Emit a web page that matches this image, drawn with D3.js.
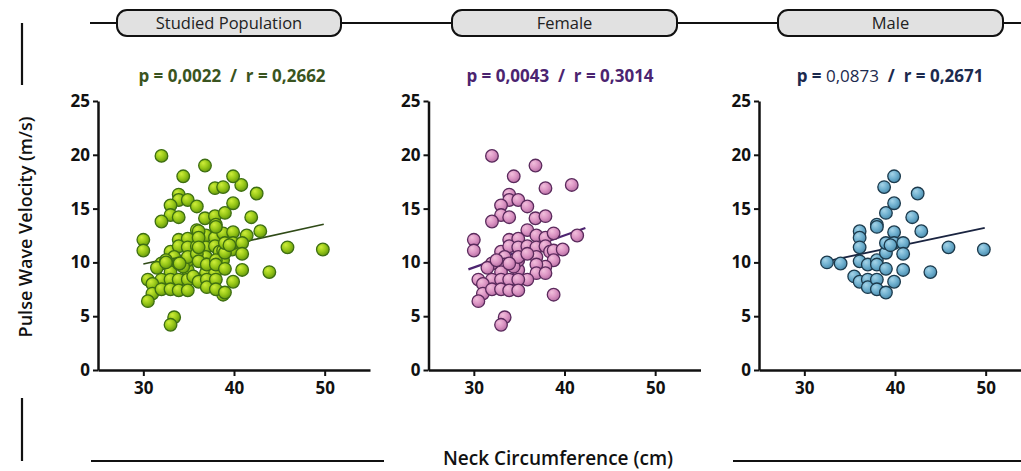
<!DOCTYPE html>
<html>
<head>
<meta charset="utf-8">
<script src="https://cdn.jsdelivr.net/npm/d3@7"></script>
<style>
  html, body { margin: 0; padding: 0; background: #fff; }
  svg { display: block; font-family: "Open Sans", "Noto Sans", sans-serif; }
</style>
</head>
<body>
<div id="chart"></div>
<script>
// tick values and titles
const xTicks = [30, 40, 50];
const yTicks = [0, 5, 10, 15, 20, 25];
const panelTitles = ["Studied Population", "Female", "Male"];

// female: neck circumference (cm) / pulse wave velocity (m/s)
const femaleNeck = [32.0, 36.8, 34.4, 37.9, 40.8, 33.9, 33.9, 34.9, 35.9, 33.0, 33.0, 33.9, 32.0, 36.8, 37.9,
  35.9, 33.9, 34.9, 36.9, 37.9, 38.8, 41.4, 30.0, 30.0, 33.0, 33.9, 34.9, 35.9, 36.9, 36.9, 37.9, 38.4,
  38.8, 39.8, 38.8, 37.9, 36.9, 36.9, 37.9, 35.9, 34.9, 34.9, 34.4, 33.4, 33.4, 33.0, 32.0, 31.5, 32.0,
  33.0, 33.9, 34.9, 30.5, 31.0, 31.0, 30.5, 32.0, 33.0, 33.9, 34.9, 38.8, 33.4, 33.0, 34.9, 35.9, 33.9, 32.5];
const femalePwv = [19.9, 19.0, 18.0, 16.9, 17.2, 16.3, 15.8, 15.8, 15.2, 15.3, 14.4, 14.2, 13.8, 14.1, 14.3,
  13.0, 12.1, 12.2, 12.5, 12.3, 12.7, 12.5, 12.1, 11.1, 11.0, 11.5, 11.4, 11.5, 11.4, 10.5, 11.5, 11.0,
  11.1, 11.2, 10.2, 9.6, 9.8, 9.0, 9.0, 8.4, 9.3, 10.2, 9.6, 10.5, 9.8, 9.1, 9.9, 9.5, 8.4,
  8.4, 8.4, 8.4, 8.4, 8.0, 7.1, 6.4, 7.5, 7.5, 7.4, 7.4, 7.0, 4.9, 4.2, 10.5, 10.8, 9.9, 10.2];

// male
const maleNeck = [32.5, 34.0, 36.1, 36.1, 36.1, 36.1, 35.5, 36.1, 37.0, 37.0, 37.0, 38.0, 38.0, 38.0, 38.0,
  38.0, 38.0, 39.0, 39.0, 39.0, 39.0, 39.0, 38.8, 39.9, 39.9, 39.9, 39.9, 39.9, 40.9, 40.9, 40.9, 41.9,
  42.5, 42.9, 43.9, 45.9, 49.8, 39.5];
const malePwv = [10.0, 9.9, 12.9, 12.3, 11.4, 10.1, 8.7, 8.2, 9.8, 8.4, 7.7, 8.4, 7.5, 10.2, 9.8,
  13.5, 13.3, 7.2, 9.4, 10.9, 11.8, 14.6, 17.0, 18.0, 15.5, 12.8, 11.8, 8.2, 11.8, 10.8, 9.3, 14.2,
  16.4, 12.9, 9.1, 11.4, 11.2, 11.6];

// regression lines, end points [x0, x1] / [y0, y1]
const studiedFitX = [30.0, 49.9], studiedFitY = [9.85, 13.55];
const femaleFitX = [29.4, 42.3], femaleFitY = [9.35, 13.2];
const maleFitX = [32.4, 49.9], maleFitY = [10.1, 13.2];

// stat lines: [text, bold]
const studiedStats = [["p = 0,0022  /  r = 0,2662", true]];
const femaleStats = [["p = 0,0043  /  r = 0,3014", true]];
const maleStats = [["p = ", true], ["0,0873", false], ["  /  r = 0,2671", true]];

const W = 1021, H = 471;
const svg = d3.select("#chart").append("svg").attr("width", W).attr("height", H);

const defs = svg.append("defs");
function grad(id, hi, mid, lo) {
  const g = defs.append("radialGradient").attr("id", id)
    .attr("cx", "40%").attr("cy", "38%").attr("r", "65%").attr("fx", "35%").attr("fy", "30%");
  g.append("stop").attr("offset", "0%").attr("stop-color", hi);
  g.append("stop").attr("offset", "55%").attr("stop-color", mid);
  g.append("stop").attr("offset", "100%").attr("stop-color", lo);
}
grad("gGreen", "#cfee3a", "#98c818", "#64960e");
grad("gPink", "#f2c0dc", "#dc95c4", "#b56ea2");
grad("gBlue", "#a6d4e8", "#6fb0cf", "#4a8aab");

const toPts = (xs, ys) => xs.map((d, i) => ({ x: d, y: ys[i] }));
const femalePts = toPts(femaleNeck, femalePwv);
const malePts = toPts(maleNeck, malePwv);

const panels = [
  { left: 98, pts: femalePts.concat(malePts), fill: "url(#gGreen)", stroke: "#3d6e12",
    fx: studiedFitX, fy: studiedFitY, lineColor: "#2f4a17", lineW: 1.6, stats: studiedStats, statColor: "#3a5420",
    cx: 232, pill: [117, 341] },
  { left: 428.5, pts: femalePts, fill: "url(#gPink)", stroke: "#5a2a5c",
    fx: femaleFitX, fy: femaleFitY, lineColor: "#4d2470", lineW: 2.2, stats: femaleStats, statColor: "#4b2470",
    cx: 560, pill: [452, 677] },
  { left: 759, pts: malePts, fill: "url(#gBlue)", stroke: "#1c3a4c",
    fx: maleFitX, fy: maleFitY, lineColor: "#1a2440", lineW: 1.8, stats: maleStats, statColor: "#1c2a4e",
    cx: 890, pill: [778, 1003] }
];

const yTop = 101, yBot = 370, pw = 272;

// top band line
svg.append("line").attr("x1", 90).attr("x2", W).attr("y1", 23).attr("y2", 23)
  .attr("stroke", "#111").attr("stroke-width", 2);

panels.forEach((p, i) => {
  // header pill
  svg.append("rect").attr("x", p.pill[0]).attr("y", 10).attr("width", p.pill[1] - p.pill[0]).attr("height", 26)
    .attr("rx", 10).attr("fill", "#e1e1e1").attr("stroke", "#111").attr("stroke-width", 2);
  svg.append("text").attr("x", (p.pill[0] + p.pill[1]) / 2).attr("y", 29)
    .attr("text-anchor", "middle").attr("font-size", 16.5).attr("fill", "#222").text(panelTitles[i]);

  // stat line
  const st = svg.append("text").attr("x", p.cx).attr("y", 82).attr("text-anchor", "middle")
    .attr("font-size", 17).attr("fill", p.statColor).attr("xml:space", "preserve");
  p.stats.forEach(s => st.append("tspan").attr("font-weight", s[1] ? 700 : 400).text(s[0]));

  const x = d3.scaleLinear().domain([25, 55]).range([p.left, p.left + pw]);
  const y = d3.scaleLinear().domain([0, 25]).range([yBot, yTop]);

  const g = svg.append("g");

  // regression line
  g.append("line")
    .attr("x1", x(p.fx[0])).attr("y1", y(p.fy[0]))
    .attr("x2", x(p.fx[1])).attr("y2", y(p.fy[1]))
    .attr("stroke", p.lineColor).attr("stroke-width", p.lineW);

  // dots
  g.selectAll("circle").data(p.pts).join("circle")
    .attr("cx", d => x(d.x)).attr("cy", d => y(d.y)).attr("r", 6.3)
    .attr("fill", p.fill).attr("stroke", p.stroke).attr("stroke-width", 1.3);

  // axes
  const ax = svg.append("g").attr("transform", "translate(0," + yBot + ")")
    .call(d3.axisBottom(x).tickValues(xTicks).tickSize(6).tickSizeOuter(0).tickPadding(6));
  const ay = svg.append("g").attr("transform", "translate(" + p.left + ",0)")
    .call(d3.axisLeft(y).tickValues(yTicks).tickSize(5).tickSizeOuter(0).tickPadding(3));
  [ax, ay].forEach(a => {
    a.select(".domain").attr("stroke", "#111").attr("stroke-width", 2.5);
    a.selectAll(".tick line").attr("stroke", "#111").attr("stroke-width", 2);
    a.selectAll(".tick text").attr("fill", "#111").attr("font-size", 17).attr("font-weight", 700)
      .attr("font-family", "'Open Sans', sans-serif");
  });
});

// y axis title with side lines
svg.append("text").attr("transform", "translate(32,227) rotate(-90)").attr("text-anchor", "middle")
  .attr("font-size", 18).attr("font-weight", 600).attr("fill", "#111").text("Pulse Wave Velocity (m/s)");
svg.append("line").attr("x1", 22).attr("x2", 22).attr("y1", 23).attr("y2", 85).attr("stroke", "#111").attr("stroke-width", 2.2);
svg.append("line").attr("x1", 22).attr("x2", 22).attr("y1", 398).attr("y2", 461).attr("stroke", "#111").attr("stroke-width", 2.2);

// x axis title with side lines
svg.append("text").attr("x", 558).attr("y", 465).attr("text-anchor", "middle")
  .attr("font-size", 19).attr("font-weight", 600).attr("fill", "#111").text("Neck Circumference (cm)");
svg.append("line").attr("x1", 91).attr("x2", 384).attr("y1", 461).attr("y2", 461).attr("stroke", "#111").attr("stroke-width", 2.2);
svg.append("line").attr("x1", 733).attr("x2", W).attr("y1", 461).attr("y2", 461).attr("stroke", "#111").attr("stroke-width", 2.2);
</script>
</body>
</html>
